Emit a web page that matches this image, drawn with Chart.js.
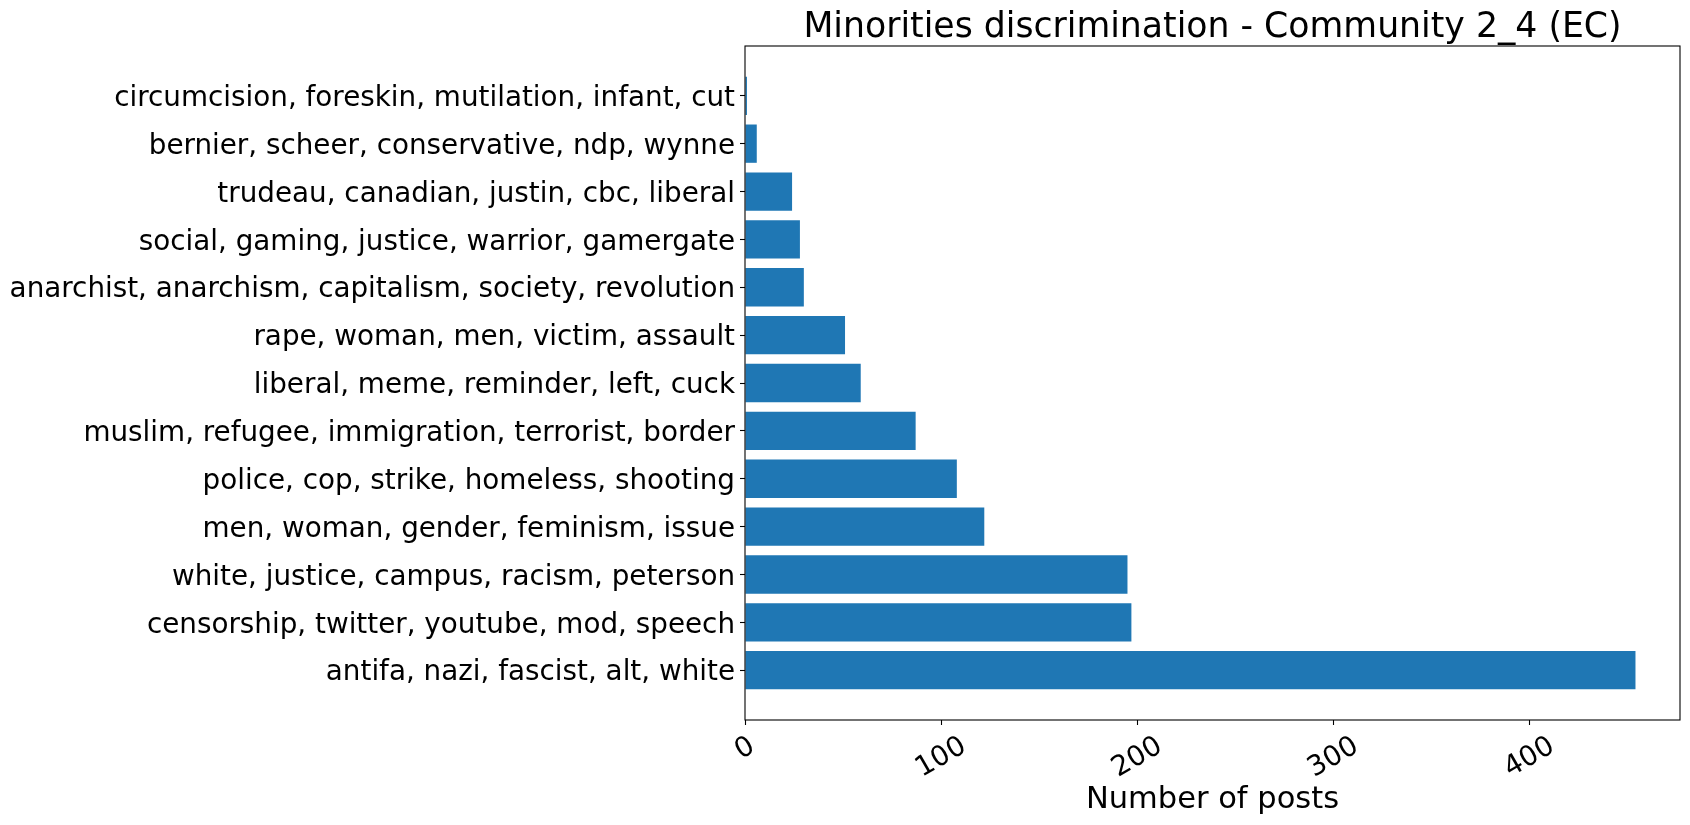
<!DOCTYPE html>
<html>
<head>
<meta charset="utf-8">
<title>Minorities discrimination - Community 2_4 (EC)</title>
<script src="https://cdn.jsdelivr.net/npm/chart.js@4.4.1/dist/chart.umd.min.js"></script>
<style>
  html, body { margin: 0; padding: 0; background: #fff; }
  #wrap { width: 1690px; height: 825px; }
</style>
</head>
<body>
<div id="wrap"><canvas id="topic-chart" width="1690" height="825"></canvas></div>
<script>
// Topics listed bottom to top, as matplotlib barh draws them
const TOPICS = [
  'antifa, nazi, fascist, alt, white',
  'censorship, twitter, youtube, mod, speech',
  'white, justice, campus, racism, peterson',
  'men, woman, gender, feminism, issue',
  'police, cop, strike, homeless, shooting',
  'muslim, refugee, immigration, terrorist, border',
  'liberal, meme, reminder, left, cuck',
  'rape, woman, men, victim, assault',
  'anarchist, anarchism, capitalism, society, revolution',
  'social, gaming, justice, warrior, gamergate',
  'trudeau, canadian, justin, cbc, liberal',
  'bernier, scheer, conservative, ndp, wynne',
  'circumcision, foreskin, mutilation, infant, cut'
];
const POSTS = [454, 197, 195, 122, 108, 87, 59, 51, 30, 28, 24, 6, 1];
const X_TICKS = [0, 100, 200, 300, 400];

const TITLE = 'Minorities discrimination - Community 2_4 (EC)';
const X_LABEL = 'Number of posts';
const FONT = "'DejaVu Sans', sans-serif";
const BAR_COLOR = '#1f77b4';

// matplotlib style limits: 5% margin
const yMin = -0.4 - 0.05 * (TOPICS.length - 1 + 0.8);
const yMax = TOPICS.length - 1 + 0.4 + 0.05 * (TOPICS.length - 1 + 0.8);
const xMax = Math.max(...POSTS) * 1.05;

const mplExtras = {
  id: 'mplExtras',
  afterDraw(chart) {
    const { ctx, chartArea: a } = chart;
    const xs = chart.scales.x;
    ctx.save();
    // frame
    ctx.strokeStyle = '#000';
    ctx.lineWidth = 1.1;
    ctx.strokeRect(a.left, a.top, a.right - a.left, a.bottom - a.top);

    // title
    ctx.fillStyle = '#000';
    ctx.font = '34.7px ' + FONT;
    ctx.textAlign = 'center';
    ctx.textBaseline = 'alphabetic';
    ctx.fillText(TITLE, (a.left + a.right) / 2, a.top - 9);

    // rotated x tick labels, centred under the tick
    const fs = 27.8, rot = 30 * Math.PI / 180;
    ctx.font = fs + 'px ' + FONT;
    ctx.textBaseline = 'middle';
    xs.ticks.forEach(t => {
      const label = String(t.value);
      const w = ctx.measureText(label).width;
      const h = fs * 1.164;
      const bh = w * Math.sin(rot) + h * Math.cos(rot);
      const x = xs.getPixelForValue(t.value);
      const y = a.bottom + 10.5 + bh / 2;
      ctx.save();
      ctx.translate(x, y);
      ctx.rotate(-rot);
      ctx.fillText(label, 0, 0);
      ctx.restore();
    });
    ctx.restore();
  }
};

new Chart(document.getElementById('topic-chart'), {
  type: 'bar',
  data: {
    datasets: [{
      data: POSTS.map((v, i) => ({ x: v, y: i })),
      backgroundColor: BAR_COLOR,
      borderWidth: 0,
      categoryPercentage: 0.8,
      barPercentage: 1.0
    }]
  },
  options: {
    indexAxis: 'y',
    responsive: false,
    animation: false,
    layout: { padding: { top: 46, right: 10, left: 0, bottom: 0 } },
    plugins: { legend: { display: false }, tooltip: { enabled: false }, title: { display: false } },
    scales: {
      x: {
        type: 'linear', min: 0, max: xMax, offset: false,
        afterBuildTicks: s => { s.ticks = X_TICKS.map(v => ({ value: v })); },
        afterFit: s => { s.height = 105; },
        ticks: { display: false },
        grid: { drawOnChartArea: false, drawTicks: true, tickLength: 5, tickColor: '#000', tickWidth: 1.1, offset: false },
        border: { display: false },
        title: { display: true, text: X_LABEL, color: '#000', font: { family: FONT, size: 30.5 }, padding: { top: 0, bottom: 7 } }
      },
      y: {
        type: 'linear', min: yMin, max: yMax, offset: false,
        afterBuildTicks: s => { s.ticks = TOPICS.map((_, i) => ({ value: i })); },
        afterFit: s => { s.width = 745; },
        ticks: {
          color: '#000', padding: 5, autoSkip: false, labelOffset: 3,
          font: { family: FONT, size: 27.8 },
          callback: v => TOPICS[v]
        },
        grid: { drawOnChartArea: false, drawTicks: true, tickLength: 5, tickColor: '#000', tickWidth: 1.1, offset: false },
        border: { display: false }
      }
    }
  },
  plugins: [mplExtras]
});
</script>
</body>
</html>
